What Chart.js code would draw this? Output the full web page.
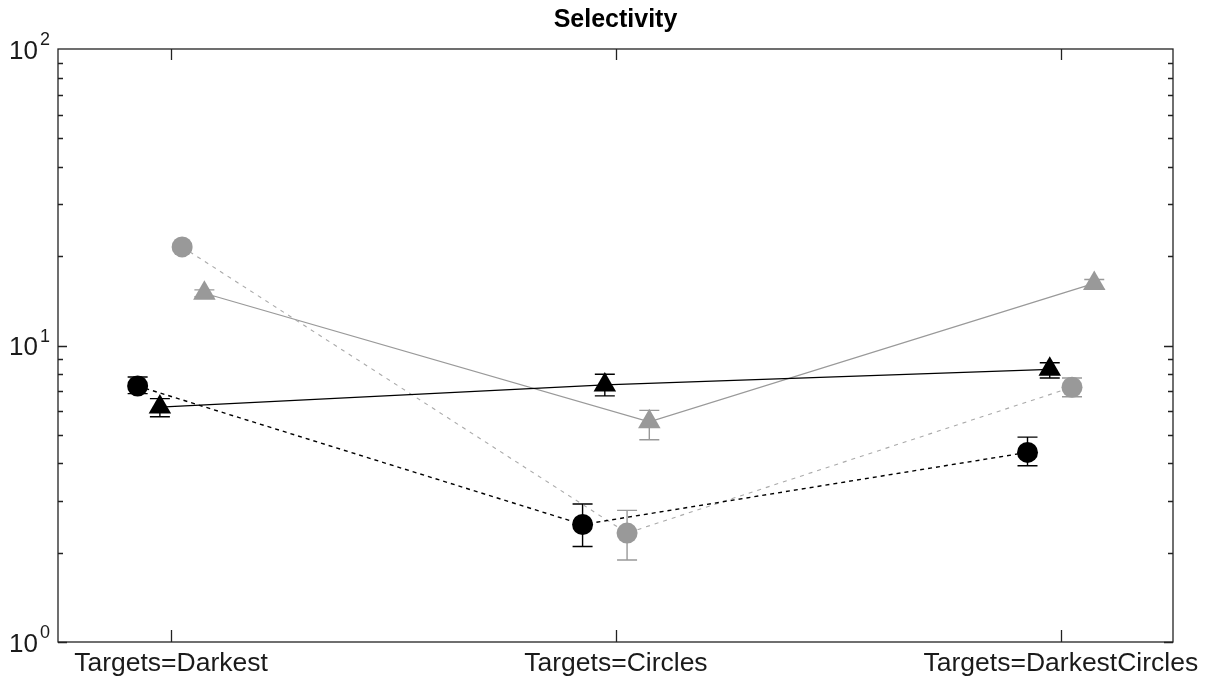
<!DOCTYPE html>
<html>
<head>
<meta charset="utf-8">
<title>Selectivity</title>
<script src="https://cdn.jsdelivr.net/npm/chart.js@4/dist/chart.umd.min.js"></script>
<style>
  html, body { margin: 0; padding: 0; background: #ffffff; }
  #wrap { width: 1216px; height: 678px; position: relative; }
</style>
</head>
<body>
<div id="wrap"><canvas id="chart" width="1216" height="678"></canvas></div>
<script>
// Condition names along the horizontal axis
const categories = ['Targets=Darkest', 'Targets=Circles', 'Targets=DarkestCircles'];

// Mean selectivity per condition, with lower / upper error limits
const blackCircles     = [7.3, 2.49, 4.36];
const blackCirclesLow  = [6.88, 2.10, 3.93];
const blackCirclesHigh = [7.83, 2.92, 4.91];

const blackTriangles     = [6.2, 7.36, 8.31];
const blackTrianglesLow  = [5.75, 6.76, 7.77];
const blackTrianglesHigh = [6.62, 8.0, 8.75];

const grayCircles     = [21.5, 2.33, 7.23];
const grayCirclesLow  = [21.2, 1.89, 6.72];
const grayCirclesHigh = [21.8, 2.78, 7.77];

const grayTriangles     = [15.0, 5.53, 16.2];
const grayTrianglesLow  = [14.6, 4.81, 15.5];
const grayTrianglesHigh = [15.4, 6.04, 16.7];

// Decade ticks of the log axis
const yDecades = [1, 10, 100];
const yDecadeExponents = ['0', '1', '2'];

const GRAY = '#999999';
const FONT = '"Liberation Sans", Arial, sans-serif';

function series(values, low, high, shift, opts) {
  return Object.assign({
    data: values.map((v, i) => ({ x: i + 1 + shift, y: v })),
    errLow: low,
    errHigh: high,
    showLine: true,
    pointBorderWidth: 0,
    pointHoverRadius: 0
  }, opts);
}

const datasets = [
  series(blackCircles, blackCirclesLow, blackCirclesHigh, -0.075, {
    label: 'black circles', borderColor: '#000000', backgroundColor: '#000000',
    borderWidth: 1.4, borderDash: [4, 4], pointStyle: 'circle', pointRadius: 10.5,
    pointBackgroundColor: '#000000'
  }),
  series(blackTriangles, blackTrianglesLow, blackTrianglesHigh, -0.025, {
    label: 'black triangles', borderColor: '#000000', backgroundColor: '#000000',
    borderWidth: 1.3, pointStyle: 'triangle', pointRadius: 13,
    pointBackgroundColor: '#000000'
  }),
  series(grayCircles, grayCirclesLow, grayCirclesHigh, 0.025, {
    label: 'gray circles', borderColor: '#aaaaaa', backgroundColor: GRAY,
    borderWidth: 1.1, borderDash: [4, 5], pointStyle: 'circle', pointRadius: 10.5,
    pointBackgroundColor: GRAY
  }),
  series(grayTriangles, grayTrianglesLow, grayTrianglesHigh, 0.075, {
    label: 'gray triangles', borderColor: GRAY, backgroundColor: GRAY,
    borderWidth: 1.2, pointStyle: 'triangle', pointRadius: 13,
    pointBackgroundColor: GRAY
  })
];

// Error bars: vertical whisker with caps, drawn under the markers
const errorBars = {
  id: 'errorBars',
  beforeDatasetsDraw(chart) {
    const { ctx, scales: { x, y } } = chart;
    ctx.save();
    chart.data.datasets.forEach(ds => {
      ctx.strokeStyle = ds.borderColor === '#000000' ? '#000000' : GRAY;
      ctx.lineWidth = 1.4;
      ctx.setLineDash([]);
      ds.data.forEach((p, i) => {
        const px = x.getPixelForValue(p.x);
        const yl = y.getPixelForValue(ds.errLow[i]);
        const yh = y.getPixelForValue(ds.errHigh[i]);
        const cap = 10;
        ctx.beginPath();
        ctx.moveTo(px, yl); ctx.lineTo(px, yh);
        ctx.moveTo(px - cap, yl); ctx.lineTo(px + cap, yl);
        ctx.moveTo(px - cap, yh); ctx.lineTo(px + cap, yh);
        ctx.stroke();
      });
    });
    ctx.restore();
  }
};

// Box frame, inward ticks, tick labels and title
const frame = {
  id: 'frame',
  afterDraw(chart) {
    const { ctx, chartArea: a, scales: { x, y } } = chart;
    ctx.save();
    ctx.strokeStyle = '#222222';
    ctx.lineWidth = 1.3;
    ctx.setLineDash([]);
    ctx.strokeRect(a.left, a.top, a.right - a.left, a.bottom - a.top);

    // category ticks on bottom and top edges
    ctx.beginPath();
    categories.forEach((c, i) => {
      const px = Math.round(x.getPixelForValue(i + 1)) + 0.5;
      ctx.moveTo(px, a.bottom); ctx.lineTo(px, a.bottom - 12);
      ctx.moveTo(px, a.top); ctx.lineTo(px, a.top + 11);
    });
    // log ticks on left and right edges
    for (let d = 0; d < yDecades.length - 1; d++) {
      for (let m = 1; m <= 9; m++) {
        const v = yDecades[d] * m;
        const py = Math.round(y.getPixelForValue(v)) + 0.5;
        const len = m === 1 ? 9 : 5;
        ctx.moveTo(a.left, py); ctx.lineTo(a.left + len, py);
        ctx.moveTo(a.right, py); ctx.lineTo(a.right - len, py);
      }
    }
    ctx.stroke();

    // category labels
    ctx.fillStyle = '#1a1a1a';
    ctx.font = '26.5px ' + FONT;
    ctx.textAlign = 'center';
    ctx.textBaseline = 'alphabetic';
    categories.forEach((c, i) => {
      ctx.fillText(c, x.getPixelForValue(i + 1), a.bottom + 29);
    });

    // decade labels, 10 with a raised exponent
    yDecades.forEach((v, i) => {
      const py = y.getPixelForValue(v);
      ctx.font = '26px ' + FONT;
      ctx.textAlign = 'right';
      ctx.fillText('10', 38, py + 9.5);
      ctx.font = '18px ' + FONT;
      ctx.textAlign = 'left';
      ctx.fillText(yDecadeExponents[i], 40, py - 4);
    });

    // title
    ctx.font = 'bold 25px ' + FONT;
    ctx.textAlign = 'center';
    ctx.fillStyle = '#000000';
    ctx.fillText('Selectivity', (a.left + a.right) / 2, 27);
    ctx.restore();
  }
};

new Chart(document.getElementById('chart'), {
  type: 'scatter',
  data: { datasets },
  options: {
    responsive: false,
    animation: false,
    events: [],
    layout: { padding: { left: 58, top: 49, right: 43, bottom: 36 } },
    plugins: { legend: { display: false }, tooltip: { enabled: false }, title: { display: false } },
    scales: {
      x: {
        type: 'linear', min: 0.746, max: 3.252,
        display: false
      },
      y: {
        type: 'logarithmic', min: 1, max: 100,
        display: false
      }
    }
  },
  plugins: [errorBars, frame]
});
</script>
</body>
</html>
